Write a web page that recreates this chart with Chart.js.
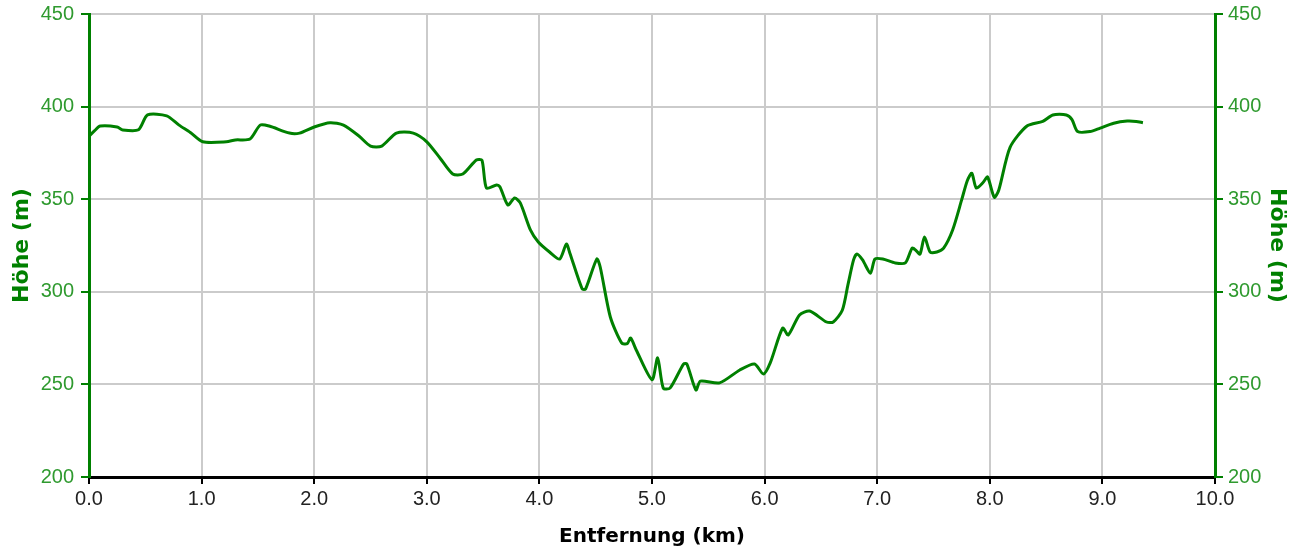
<!DOCTYPE html>
<html>
<head>
<meta charset="utf-8">
<script src="https://cdn.jsdelivr.net/npm/chart.js@4/dist/chart.umd.min.js"></script>
<style>
  html,body{margin:0;padding:0;background:#fff;}
  #wrap{width:1306px;height:551px;}
</style>
</head>
<body>
<div id="wrap"><canvas id="profile" width="1306" height="551"></canvas></div>
<script>
// distance along track (km)
const distKm = [0.0,0.05,0.1,0.25,0.3,0.44,0.52,0.69,0.8,0.9,1.01,1.22,1.3,1.43,1.52,1.6,1.78,1.87,2.0,2.14,
  2.26,2.4,2.5,2.6,2.73,2.88,3.0,3.12,3.23,3.32,3.44,3.49,3.53,3.62,3.65,3.72,3.78,3.83,3.92,3.99,
  4.09,4.18,4.24,4.27,4.38,4.41,4.51,4.54,4.63,4.73,4.78,4.81,4.86,5.0,5.05,5.1,5.16,5.28,5.31,5.39,
  5.43,5.6,5.78,5.91,5.99,6.05,6.16,6.21,6.31,6.4,6.55,6.61,6.69,6.74,6.79,6.82,6.87,6.94,6.98,7.05,
  7.16,7.25,7.31,7.34,7.38,7.42,7.47,7.53,7.59,7.67,7.75,7.8,7.84,7.88,7.94,7.98,8.04,8.08,8.18,8.33,
  8.47,8.56,8.68,8.73,8.78,8.89,8.98,9.1,9.22,9.3,9.36];
// elevation (m)
const hoehe = [384,387,389.5,389,387.4,387.5,395.5,395,390,386,381,381,382,382.5,390,389.5,385.7,385.7,389,391.3,
  390,384,378.7,378.7,385.7,385.7,381,372,363.6,363.6,371.2,371,356,357.7,356.6,346.9,350.6,348,333.4,326.9,
  321.5,317.7,325.8,321,301.5,301.5,317.7,313.4,286.4,272.4,272,275,268.6,252.5,264.3,248,248,261,261,247,
  251.8,250.8,257.8,261,255.6,261.6,280.4,276.7,287.5,289.6,283.7,283.7,290,303.7,317.2,320.4,317.2,310,317.7,317.7,
  315.6,315.6,323.6,322.6,320.4,329.6,321.5,321.5,323.6,333.4,349.6,360,364,356,359,362,351,355,378,389.5,
  392,395.5,395.5,393,386.5,386.5,388.4,391,392.2,392,391.3];

const xMin = 0, xMax = 10, xStep = 1;
const yMin = 200, yMax = 450, yStep = 50;

const green = '#008000';
const tickGreen = '#2f9a2f';
const gridGray = '#cbcbcb';
const font = 'Liberation Sans, Arial, sans-serif';
const boldFont = 'DejaVu Sans, Verdana, sans-serif';

const points = distKm.map((d,i)=>({x:d,y:hoehe[i]}));

function yAxis(side){
  return {
    type:'linear', position:side, min:yMin, max:yMax,
    ticks:{stepSize:yStep, color:tickGreen, font:{family:font,size:20}, padding: side==='left' ? 7 : 5},
    grid:{color:gridGray, lineWidth:2, tickColor:green, tickLength:8, tickWidth:2, drawOnChartArea: side==='left'},
    border:{color:green, width:3},
    title:{display:true, text:'Höhe (m)', color:green, font:{family:boldFont,size:22,weight:'bold'},
      padding:{top: side==='left' ? 9 : 16, bottom:0}},
    afterFit(s){ s.width = side==='left' ? 89 : 91; s.paddingTop = 0; s.paddingBottom = 0; }
  };
}

new Chart(document.getElementById('profile'),{
  type:'line',
  data:{datasets:[{data:points, borderColor:green, borderWidth:3, pointRadius:0, tension:0.25, fill:false}]},
  options:{
    responsive:false, animation:false,
    layout:{padding:{top:14,right:0,left:0,bottom:0}},
    plugins:{legend:{display:false}, tooltip:{enabled:false}},
    scales:{
      x:{
        type:'linear', min:xMin, max:xMax,
        ticks:{stepSize:xStep, color:'#222', font:{family:font,size:20}, padding:3, callback:v=>v.toFixed(1)},
        grid:{color:gridGray, lineWidth:2, tickColor:'#000', tickLength:7, tickWidth:2},
        border:{color:'#000', width:3},
        title:{display:true, text:'Entfernung (km)', color:'#000', font:{family:boldFont,size:20,weight:'bold'}, padding:{top:2,bottom:2}},
        afterFit(s){ s.height = 74; }
      },
      y:yAxis('left'),
      y2:yAxis('right')
    }
  }
});
</script>
</body>
</html>
